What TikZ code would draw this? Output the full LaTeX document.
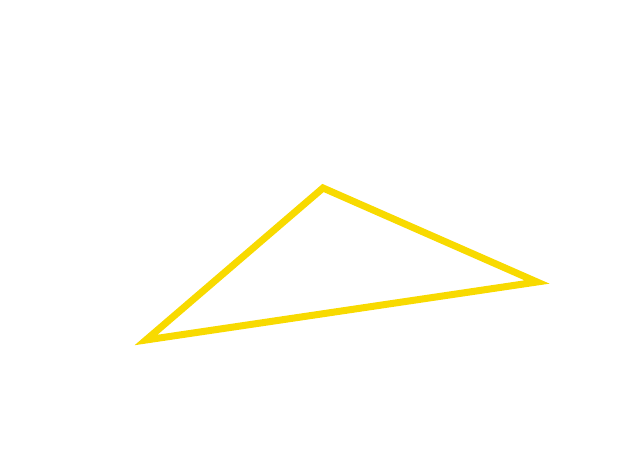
\documentclass[tikz,border=0pt]{standalone}
\definecolor{triyellow}{RGB}{248,218,0}
\begin{document}
\begin{tikzpicture}[x=1pt,y=1pt,
  tri/.style={draw=triyellow,line width=7pt,line join=miter}]
\useasboundingbox (0,0) rectangle (640,452);
\coordinate (A) at (323,264);
\coordinate (B) at (537,170);
\coordinate (C) at (146,112);
\draw[tri] (A) -- (B) -- (C) -- cycle;
\end{tikzpicture}
\end{document}
